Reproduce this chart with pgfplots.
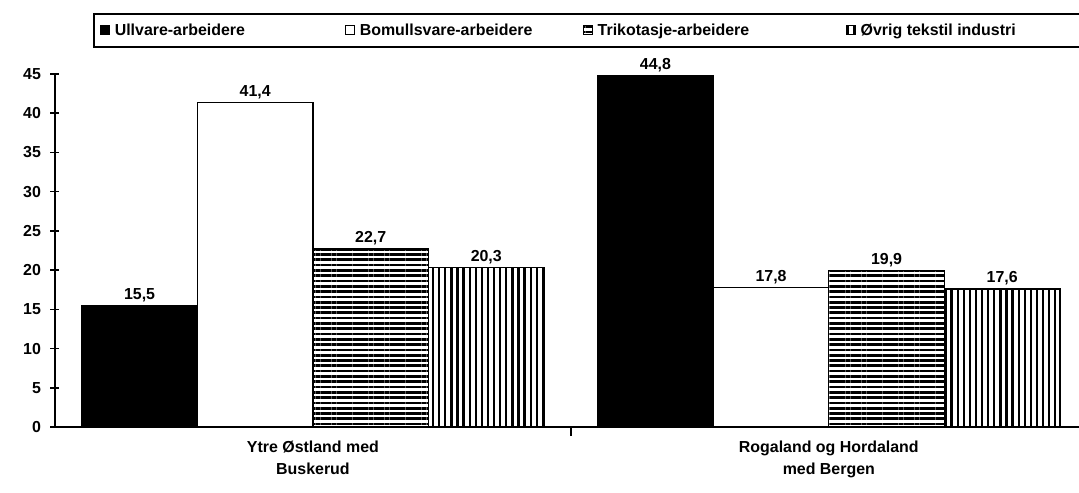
\documentclass[border=0pt]{standalone}
\usepackage{fontspec}
\setmainfont{Liberation Sans}
\usepackage{pgfplots}
\pgfplotsset{compat=1.18}
\usetikzlibrary{patterns.meta}
\tikzset{
  hpat/.style={pattern={Lines[angle=0,distance=5.3bp,line width=2.7bp]}},
  vpat/.style={pattern={Lines[angle=90,distance=6.1bp,line width=2.3bp]}},
}
\pgfplotsset{
  mylegend/.style={legend image code/.code={\draw[##1,line width=1bp] (0bp,-4.5bp) rectangle (9bp,4.5bp);}},
}
\begin{document}
\begin{tikzpicture}
\useasboundingbox (-55bp,-66bp) rectangle (1024bp,427bp);
\begin{axis}[
  at={(0,0)}, anchor=south west,
  width=1024bp, height=353bp, scale only axis,
  xmin=-0.5, xmax=1.485, ymin=0, ymax=45,
  axis x line=bottom, axis y line=left,
  axis line style={-, line width=1.6bp, black},
  ytick={0,5,...,45},
  xtick={0.5}, xticklabels={},
  extra x ticks={0,1},
  extra x tick labels={{Ytre Østland med\\Buskerud},{Rogaland og Hordaland\\med Bergen}},
  extra x tick style={major tick length=0pt},
  xticklabel style={align=center, font=\fontsize{16}{23}\selectfont\bfseries, yshift=-10bp},
  tick align=center, major tick length=9bp,
  tick style={line width=1.6bp, black},
  yticklabel style={font=\fontsize{16}{18}\selectfont\bfseries, xshift=-6bp},
  /pgf/number format/assume math mode=true,
  ybar=0pt, bar width=0.224,
  nodes near coords={\pgfmathprintnumber[fixed,fixed zerofill,precision=1,use comma]{\pgfplotspointmeta}},
  nodes near coords style={font=\fontsize{16}{18}\selectfont\bfseries, inner sep=3bp},
  legend columns=4,
  legend style={at={(0.0371,1.1728)}, anchor=north west, draw=black, line width=1.6bp,
    inner xsep=6bp, inner ysep=8bp,
    font=\fontsize{16}{18}\selectfont\bfseries,
    /tikz/every odd column/.append style={column sep=3bp}},
]
\addplot[fill=black, draw=black, line width=1.2bp, mylegend] coordinates {(0,15.5) (1,44.8)};
\addlegendentry{\makebox[228bp][l]{Ullvare-arbeidere}}
\addplot[fill=white, draw=black, line width=1.2bp, mylegend] coordinates {(0,41.4) (1,17.8)};
\addlegendentry{\makebox[221bp][l]{Bomullsvare-arbeidere}}
\addplot[hpat, draw=black, line width=1.2bp, mylegend] coordinates {(0,22.7) (1,19.9)};
\addlegendentry{\makebox[246bp][l]{Trikotasje-arbeidere}}
\addplot[vpat, draw=black, line width=1.2bp, mylegend] coordinates {(0,20.3) (1,17.6)};
\addlegendentry{\makebox[212bp][l]{Øvrig tekstil industri}}
\end{axis}
\end{tikzpicture}
\end{document}
